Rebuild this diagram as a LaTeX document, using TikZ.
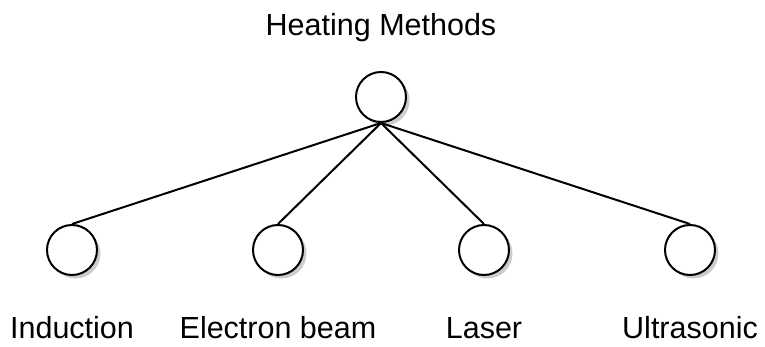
\documentclass[tikz,border=0pt]{standalone}
\usepackage{fontspec}
\setmainfont{Liberation Sans}
\usepackage{tikz}
\usetikzlibrary{shadows}

\begin{document}
\begin{tikzpicture}[x=1pt,y=-1pt,
  every node/.style={font=\fontsize{30.5}{36}\selectfont},
  leaf/.style={circle,draw=black,line width=2pt,fill=white,minimum size=50pt,inner sep=0pt,
    drop shadow={shadow xshift=3.5pt,shadow yshift=-3.5pt,fill=black!25,opacity=0.8}},
  caption/.style={anchor=center,inner sep=0pt},
  level 1/.style={sibling distance=206pt,level distance=153pt},
  edge from parent/.style={draw=black,line width=2pt},
  edge from parent path={(\tikzparentnode.south) -- (\tikzchildnode.north)}]
\useasboundingbox (0,0) rectangle (765,347);
\node[leaf,label={[caption,label distance=43pt]above:Heating Methods}] (heat) at (381,97) {}
  child { node[leaf,label={[caption,label distance=52pt]below:Induction}] (ind) {} }
  child { node[leaf,label={[caption,label distance=52pt]below:Electron beam}] (ebeam) {} }
  child { node[leaf,label={[caption,label distance=52pt]below:Laser}] (laser) {} }
  child { node[leaf,label={[caption,label distance=52pt]below:Ultrasonic}] (usonic) {} };
\end{tikzpicture}
\end{document}
